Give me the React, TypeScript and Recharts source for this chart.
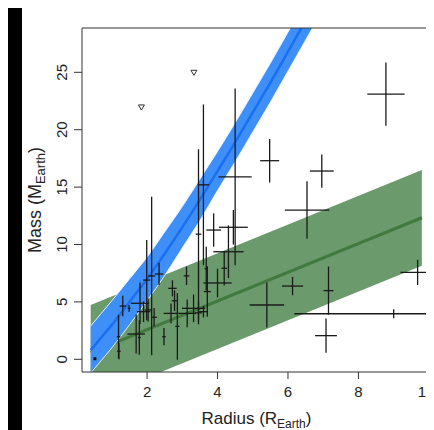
import React from 'react';
import { ComposedChart, XAxis, YAxis, Area, Line, Scatter, ErrorBar, ReferenceArea } from 'recharts';

const R_TICKS = [2, 4, 6, 8, 10];
const M_TICKS = [0, 5, 10, 15, 20, 25];
const X_DOMAIN = [0.153, 10.06];
const Y_DOMAIN = [-1.106, 28.86];

// blue (power-law) relation and its band
const blueR = [0.4, 0.7, 1.0, 1.5, 2.0, 2.5, 3.0, 3.5, 4.0, 4.5, 5.0, 5.5, 6.0, 6.5, 7.0];
const blueMid = [0.8, 1.9, 3.0, 5.0, 7.0, 9.2, 11.5, 13.9, 16.4, 18.9, 21.5, 24.1, 26.8, 29.5, 32.2];
const blueHi = [2.9, 4.0, 5.1, 7.0, 8.9, 11.1, 13.3, 15.7, 18.1, 20.6, 23.2, 25.8, 28.5, 31.2, 33.9];
const blueLo = [-1.2, -0.1, 1.0, 3.0, 5.1, 7.3, 9.7, 12.1, 14.7, 17.2, 19.8, 22.4, 25.1, 27.8, 30.5];

// green (linear) relation and its band
const greenR = [0.4, 9.8];
const greenMid = [0.58, 12.33];
const greenHi = [4.73, 16.5];
const greenLo = [-3.6, 8.15];

// measured planets: radius, mass, radius error, mass error
const ptR = [8.78, 5.48, 6.96, 6.54, 4.5, 3.6, 3.46, 2.13, 1.99, 1.19, 1.2, 1.31, 1.49, 1.8, 1.78, 1.69, 1.9, 2.2, 2.34, 2.72, 2.78, 2.68, 2.48, 2.86, 3.12, 3.14, 3.32, 3.46, 3.68, 3.71, 3.89, 4.45, 4.31, 4.19, 4.0, 3.6, 5.4, 6.13, 7.15, 7.08, 9.0, 9.68, 2.03];
const ptM = [23.1, 17.3, 16.4, 13.0, 15.9, 15.2, 10.9, 7.26, 6.9, 1.97, 0.7, 4.64, 4.44, 4.88, 1.9, 2.2, 4.15, 3.66, 7.43, 6.18, 5.1, 4.0, 1.97, 2.87, 7.27, 4.0, 4.44, 4.05, 7.9, 5.9, 11.26, 11.5, 9.37, 7.93, 6.65, 4.15, 4.73, 6.38, 5.98, 2.06, 3.97, 7.57, 4.3];
const ptRErr = [0.53, 0.27, 0.34, 0.63, 0.47, 0.16, 0.08, 0.1, 0.1, 0.05, 0.05, 0.09, 0.04, 0.26, 0.04, 0.25, 0.19, 0.08, 0.12, 0.12, 0.08, 0.21, 0.05, 0.06, 0.08, 0.25, 0.33, 0.1, 0.05, 0.1, 0.21, 0.41, 0.43, 0.08, 0.4, 0.12, 0.49, 0.3, 0.14, 0.31, 2.82, 0.49, 0.1];
const ptMErr = [2.75, 1.9, 1.45, 2.5, 7.7, 7.0, 7.4, 6.9, 3.5, 1.9, 0.7, 0.9, 0.3, 1.8, 1.5, 1.7, 0.9, 0.8, 0.95, 0.7, 0.9, 0.87, 0.75, 2.9, 0.8, 1.2, 1.2, 1.0, 1.9, 2.2, 1.45, 1.5, 2.3, 1.5, 1.25, 0.5, 1.95, 0.8, 2.1, 1.5, 0.4, 1.1, 1.0];

const dotR = [0.52];
const dotM = [0.05];

// upper limits (open triangles)
const limR = [1.84, 3.33];
const limM = [21.95, 24.97];

const blueData = blueR.map((x, i) => ({ x, mid: blueMid[i], band: [blueLo[i], blueHi[i]] }));
const greenData = greenR.map((x, i) => ({ x, mid: greenMid[i], band: [greenLo[i], greenHi[i]] }));
const pointData = ptR.map((x, i) => ({ x, y: ptM[i], ex: ptRErr[i], ey: ptMErr[i] }));
const dotData = dotR.map((x, i) => ({ x, y: dotM[i] }));
const limData = limR.map((x, i) => ({ x, y: limM[i] }));

const FONT = '"Liberation Sans", Arial, Helvetica, sans-serif';
const INK = '#222';

const XTick = (props: any) => {
  const { x, y, payload } = props;
  return (
    <text x={x} y={y + 16} textAnchor="middle" fontSize={15} fontFamily={FONT} fill={INK}>
      {payload.value}
    </text>
  );
};

const YTick = (props: any) => {
  const { x, y, payload } = props;
  return (
    <text transform={`translate(${x - 5},${y}) rotate(-90)`} textAnchor="middle" fontSize={15} fontFamily={FONT} fill={INK}>
      {payload.value}
    </text>
  );
};

const XTitle = (props: any) => {
  const vb = props.viewBox || {};
  const cx = vb.x + vb.width / 2;
  const by = vb.y + 52;
  return (
    <text x={cx} y={by} textAnchor="middle" fontSize={17} fontFamily={FONT} fill={INK}>
      Radius (R<tspan fontSize={12} dy={4}>Earth</tspan><tspan dy={-4}>)</tspan>
    </text>
  );
};

const YTitle = (props: any) => {
  const vb = props.viewBox || {};
  const cy = vb.y + vb.height / 2;
  const bx = vb.x + 41;
  return (
    <text transform={`translate(${bx},${cy}) rotate(-90)`} textAnchor="middle" fontSize={18} fontFamily={FONT} fill={INK}>
      Mass (M<tspan fontSize={13} dy={4}>Earth</tspan><tspan dy={-4}>)</tspan>
    </text>
  );
};

const Empty = () => <g />;

const DotShape = (props: any) => {
  const { cx, cy } = props;
  return <rect x={cx - 1.5} y={cy - 1.5} width={3} height={3} fill="#111" />;
};

const TriShape = (props: any) => {
  const { cx, cy } = props;
  const s = 3;
  return (
    <polygon
      points={`${cx - s},${cy - s * 0.8} ${cx + s},${cy - s * 0.8} ${cx},${cy + s * 0.9}`}
      fill="none"
      stroke="#333"
      strokeWidth={1}
    />
  );
};

export default function App() {
  return (
    <div style={{ position: 'relative', width: 434, height: 430, marginLeft: -8, marginTop: -8, background: '#fff' }}>
      <div style={{ position: 'absolute', left: 0, top: 5, width: 22, height: 425, background: '#000' }} />
      <div style={{ position: 'absolute', left: 0, top: 0 }}>
        <ComposedChart width={434} height={430} margin={{ top: 28, right: 3, bottom: 0, left: 0 }}>
          <XAxis
            type="number"
            dataKey="x"
            domain={X_DOMAIN}
            allowDataOverflow
            ticks={R_TICKS}
            height={58}
            tickSize={7}
            axisLine={false}
            tickLine={{ stroke: '#333' }}
            tick={<XTick />}
            label={<XTitle />}
          />
          <YAxis
            type="number"
            domain={Y_DOMAIN}
            allowDataOverflow
            ticks={M_TICKS}
            width={82}
            tickSize={8}
            axisLine={false}
            tickLine={{ stroke: '#333' }}
            tick={<YTick />}
            label={<YTitle />}
          />
          <Area
            data={greenData}
            dataKey="band"
            type="linear"
            fill="#6b9a6c"
            fillOpacity={1}
            stroke="none"
            isAnimationActive={false}
            zIndex={100}
          />
          <Line
            data={greenData}
            dataKey="mid"
            type="linear"
            stroke="#41793f"
            strokeWidth={3}
            dot={false}
            isAnimationActive={false}
            zIndex={110}
          />
          <Area
            data={blueData}
            dataKey="band"
            type="monotone"
            fill="#3f8ff8"
            fillOpacity={1}
            stroke="#e8f1ff"
            strokeWidth={1}
            isAnimationActive={false}
            zIndex={120}
          />
          <Line
            data={blueData}
            dataKey="mid"
            type="monotone"
            stroke="#1a6ff2"
            strokeWidth={2.5}
            dot={false}
            isAnimationActive={false}
            zIndex={130}
          />
          <Scatter data={pointData} dataKey="y" shape={<Empty />} isAnimationActive={false} zIndex={140}>
            <ErrorBar dataKey="ex" direction="x" width={0} stroke="#1a1a1a" strokeWidth={1.3} isAnimationActive={false} />
            <ErrorBar dataKey="ey" direction="y" width={0} stroke="#1a1a1a" strokeWidth={1.3} isAnimationActive={false} />
          </Scatter>
          <Scatter data={dotData} dataKey="y" shape={<DotShape />} isAnimationActive={false} zIndex={150} />
          <Scatter data={limData} dataKey="y" shape={<TriShape />} isAnimationActive={false} zIndex={150} />
          <ReferenceArea
            x1={X_DOMAIN[0]}
            x2={X_DOMAIN[1]}
            y1={Y_DOMAIN[0]}
            y2={Y_DOMAIN[1]}
            fill="none"
            fillOpacity={0}
            stroke="#333"
            strokeWidth={1}
            ifOverflow="visible"
            zIndex={200}
          />
        </ComposedChart>
      </div>
    </div>
  );
}
